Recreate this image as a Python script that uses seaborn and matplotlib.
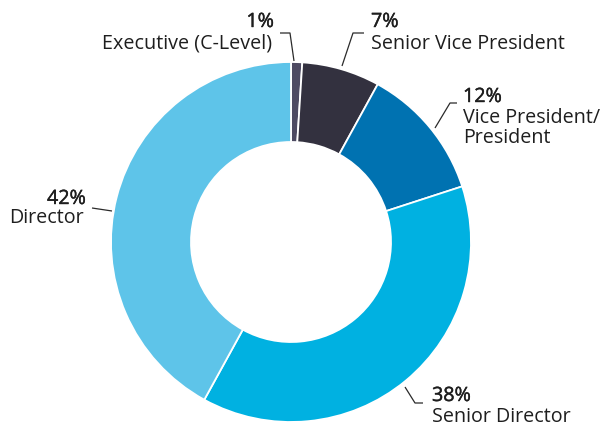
import matplotlib
matplotlib.use("Agg")
import matplotlib.pyplot as plt
import matplotlib.patheffects as pe
import seaborn as sns

# Share of respondents by job level
levels = ["Executive (C-Level)", "Senior Vice President", "Vice President/\nPresident",
          "Senior Director", "Director"]
shares = [1, 7, 12, 38, 42]
colors = ["#4d4a62", "#33313f", "#0072b1", "#00b1e1", "#5ec4e9"]

sns.set_theme(style="white")
plt.rcParams["font.family"] = ["Open Sans", "DejaVu Sans"]

W, H = 606, 426
fig = plt.figure(figsize=(W / 100, H / 100), dpi=100)
ax = fig.add_axes([0, 0, 1, 1])

# pie is drawn on a unit circle; px() maps image pixels to data units
CX, CY, R = 291, 242, 180


def px(x, y):
    return (x - CX) / R, (CY - y) / R


ax.pie(shares, colors=colors, startangle=90, counterclock=False, radius=1.0,
       wedgeprops=dict(width=80 / 180, edgecolor="white", linewidth=1.3))
ax.set_xlim(px(0, 0)[0], px(W, 0)[0])
ax.set_ylim(px(0, H)[1], px(0, 0)[1])
ax.set_aspect("equal", adjustable="datalim")
ax.axis("off")

txt = "#1e1e1e"
fs = 14.2
# slightly heavier stroke for the percentages (medium weight look)
medium = [pe.withStroke(linewidth=0.3, foreground=txt)]

# label layout: (anchor x, pct baseline y, name baseline y, alignment)
layout = {
    0: (274, 27, 49, "right"),
    1: (371, 27, 49, "left"),
    2: (463, 102, 123, "left"),
    3: (432, 401, 422, "left"),
    4: (86, 204, 223, "right"),
}
leaders = {
    0: [(294, 61), (290, 33), (280, 33)],
    1: [(342, 66), (353, 33), (364, 33)],
    2: [(435, 128), (450, 103), (457, 103)],
    3: [(405, 387), (415, 403), (423, 403)],
    4: [(112, 211), (92, 208)],
}

for i, (name, val) in enumerate(zip(levels, shares)):
    x, yp, yn, ha = layout[i]
    ax.text(*px(x, yp), f"{val}%", ha=ha, va="baseline", fontsize=fs,
            color=txt, path_effects=medium)
    lines = name.split("\n")
    for k, ln in enumerate(lines):
        ax.text(*px(x if ha == "left" else x - 2, yn + 20 * k), ln, ha=ha,
                va="baseline", fontsize=fs, color=txt)
    pts = [px(a, b) for a, b in leaders[i]]
    ax.plot([p[0] for p in pts], [p[1] for p in pts], color="#2a2a2a", lw=0.9,
            solid_capstyle="butt")

fig.savefig("out.png", dpi=100)
